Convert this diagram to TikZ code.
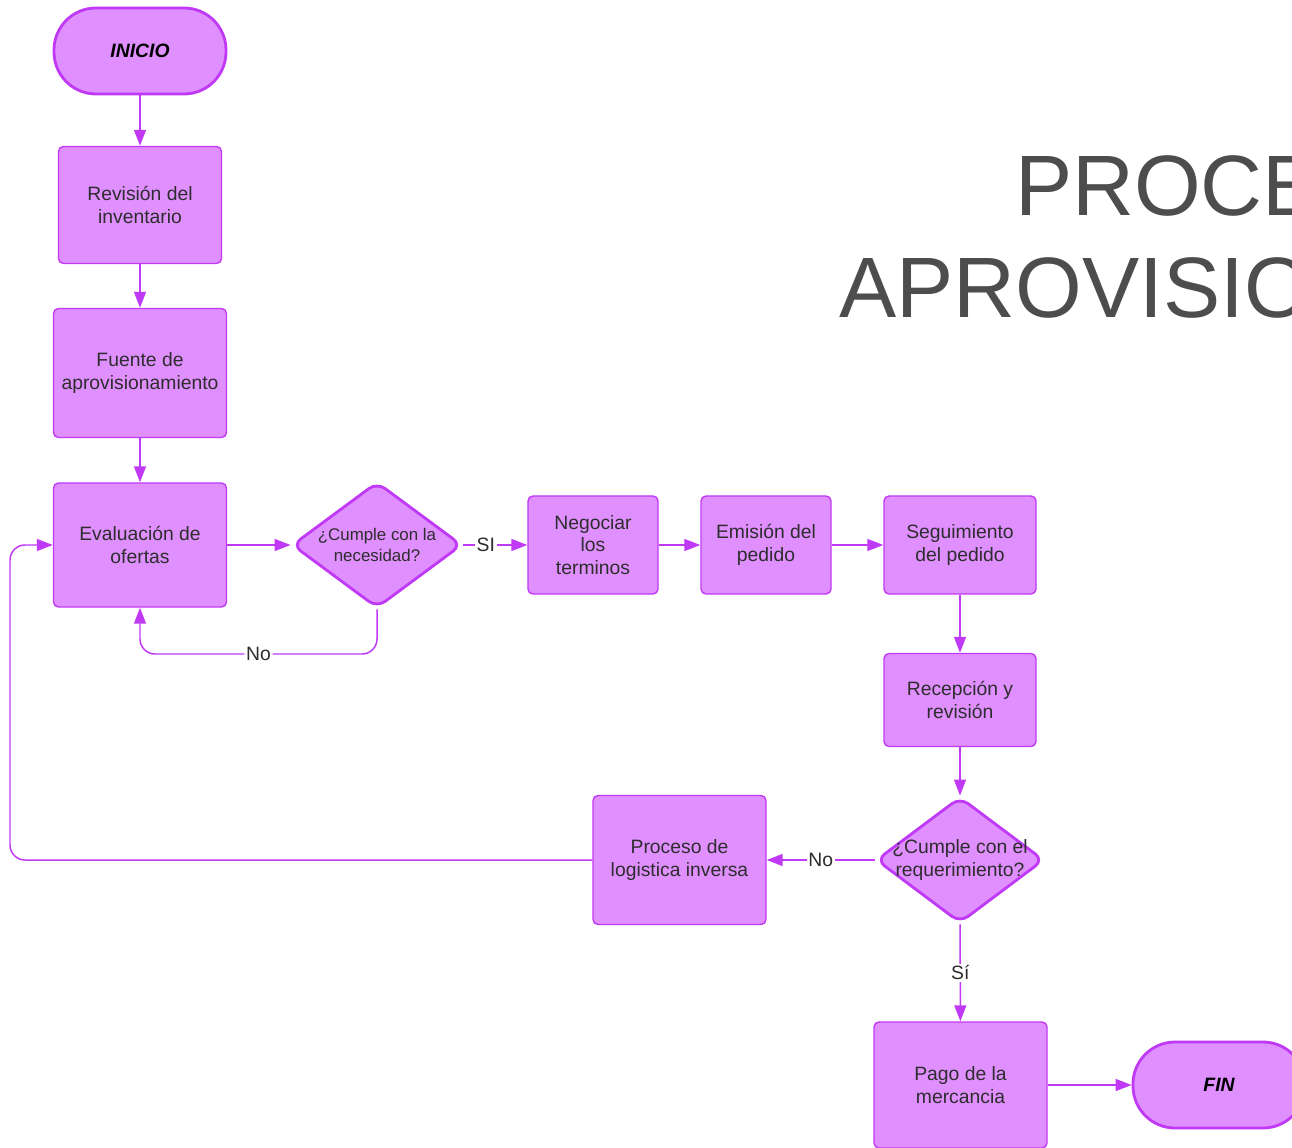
\documentclass[tikz,border=0pt]{standalone}
\usepackage{fontspec}
\setmainfont{Liberation Sans}
\usetikzlibrary{shapes.geometric, arrows.meta}

\definecolor{lilafill}{RGB}{224,143,255}
\definecolor{lilaline}{RGB}{192,57,245}
\definecolor{textgray}{RGB}{45,45,45}
\definecolor{titlegray}{RGB}{77,77,77}

\begin{document}
\begin{tikzpicture}[x=0.2mm,y=-0.2mm,->,>={Triangle[length=3.2mm,width=2.4mm]}]

	\tikzset{terminal/.style={rectangle, rounded corners=8.4mm,
			draw=lilaline, line width=1.6pt, fill=lilafill,
			minimum width=34.4mm, minimum height=17.2mm,
			font=\bfseries\itshape\fontsize{11}{13}\selectfont, text=black},
		box/.style={rectangle, rounded corners=1mm,
			draw=lilaline, line width=0.8pt, fill=lilafill,
			align=center, font=\fontsize{11}{13}\selectfont, text=textgray},
		decision/.style={diamond, rounded corners=2mm, inner sep=0pt,
			draw=lilaline, line width=1.6pt, fill=lilafill},
		ask/.style={align=center, text=textgray},
		flow/.style={color=lilaline, line width=0.85pt},
		lbl/.style={fill=white, inner sep=1pt, text=textgray,
			font=\fontsize{11}{13}\selectfont}}

	\useasboundingbox (0,0) rectangle (1292,1148);
	\clip (0,0) rectangle (1292,1148);

	\node[font=\fontsize{48.8}{58}\selectfont, text=titlegray, align=center]
		(titulo) at (1301,237) {PROCESO DE\\APROVISIONAMIENTO};

	\node[terminal] (inicio) at (140,51) {INICIO};
	\node[box, minimum width=32.6mm, minimum height=23.4mm] (revision) at (140,205) {Revisión del\\inventario};
	\node[box, minimum width=34.6mm, minimum height=25.8mm] (fuente) at (140,373) {Fuente de\\aprovisionamiento};
	\node[box, minimum width=34.6mm, minimum height=24.8mm] (evaluacion) at (140,545) {Evaluación de\\ofertas};

	\node[decision, minimum width=34mm, minimum height=25.2mm,
		label={[ask, font=\fontsize{9.6}{12}\selectfont]center:{¿Cumple con la\\necesidad?}}]
		(cumple1) at (377,545) {};
	\node[box, minimum width=26mm, minimum height=19.6mm] (negociar) at (593,545) {Negociar\\los\\terminos};
	\node[box, minimum width=26mm, minimum height=19.6mm] (emision) at (766,545) {Emisión del\\pedido};
	\node[box, minimum width=30.4mm, minimum height=19.6mm] (seguimiento) at (960,545) {Seguimiento\\del pedido};
	\node[box, minimum width=30.4mm, minimum height=18.6mm] (recepcion) at (960,700) {Recepción y\\revisión};

	\node[decision, minimum width=33.6mm, minimum height=25.2mm,
		label={[ask, font=\fontsize{11}{13}\selectfont]center:{¿Cumple con el\\requerimiento?}}]
		(cumple2) at (960,860) {};
	\node[box, minimum width=34.6mm, minimum height=25.8mm] (logistica) at (679.5,860) {Proceso de\\logistica inversa};
	\node[box, minimum width=34.6mm, minimum height=25.2mm] (pago) at (960.5,1085) {Pago de la\\mercancia};
	\node[terminal] (fin) at (1219,1085) {FIN};

	\coordinate (giro1) at (140,654);
	\coordinate (giro2) at (10,860);

	\draw[flow]
	(inicio) edge (revision)
	(revision) edge (fuente)
	(fuente) edge (evaluacion)
	(evaluacion) edge (cumple1)
	(cumple1) edge node[lbl, pos=0.35]{SI} (negociar)
	(negociar) edge (emision)
	(emision) edge (seguimiento)
	(seguimiento) edge (recepcion)
	(recepcion) edge (cumple2)
	(cumple2) edge node[lbl]{No} (logistica)
	(cumple2) edge node[lbl]{Sí} (pago)
	(pago) edge (fin);

	% lazos de retorno
	\draw[flow, rounded corners=3mm] (cumple1.south) |- node[lbl, pos=0.75]{No} (giro1) -- (evaluacion.south);
	\draw[flow, rounded corners=3mm] (logistica.west) -- (giro2) |- (evaluacion.west);

\end{tikzpicture}
\end{document}
